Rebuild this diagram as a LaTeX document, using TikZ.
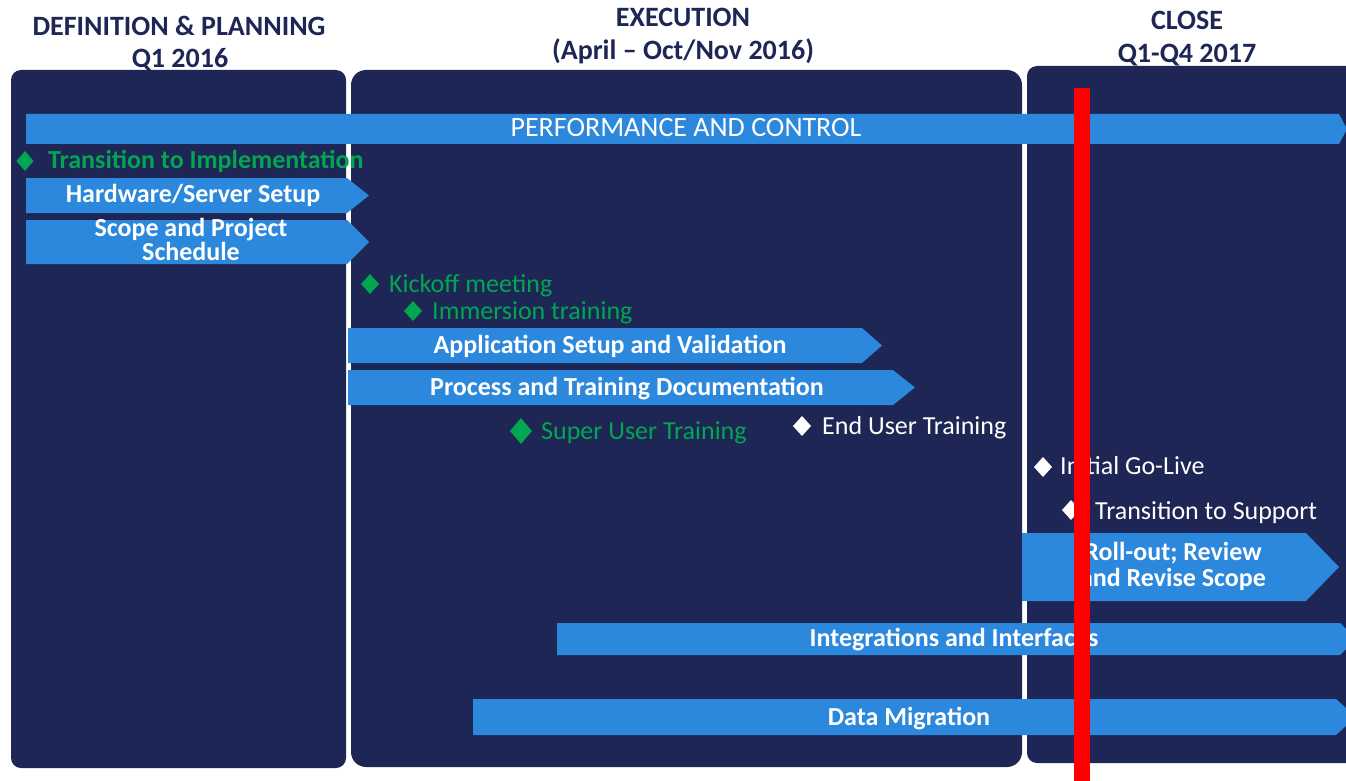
\documentclass[tikz,border=0pt]{standalone}
\usepackage{fontspec}
\setmainfont{Carlito}
\definecolor{navy}{HTML}{1D2654}
\definecolor{barblue}{HTML}{2B88DD}
\definecolor{msgreen}{HTML}{00A651}
\definecolor{hdrcol}{HTML}{1D2654}
\newcommand\gbar[5]{\fill[barblue] (#1,#2) -- (#4,#2) -- (#5,{(#2+#3)/2}) -- (#4,#3) -- (#1,#3) -- cycle;}
\newcommand\dmd[5]{\fill[#1] (#2,{#3-#5}) -- ({#2+#4},#3) -- (#2,{#3+#5}) -- ({#2-#4},#3) -- cycle;}
\tikzset{
  hdr/.style={font=\bfseries\fontsize{28}{30}\selectfont, text=hdrcol, inner sep=0pt, anchor=base},
  bartxt/.style={font=\bfseries\fontsize{26}{24}\selectfont, text=white, inner sep=0pt, anchor=base, align=center},
  msg/.style={font=\fontsize{26}{30}\selectfont, text=msgreen, inner sep=0pt, anchor=base west},
  msw/.style={font=\fontsize{26}{30}\selectfont, text=white, inner sep=0pt, anchor=base west}
}
\begin{document}
\begin{tikzpicture}[x=1pt,y=-1pt]
\useasboundingbox (0,0) rectangle (1346,781);
\begin{scope}
\clip (0,0) rectangle (1346,781);
% panels
\fill[navy,rounded corners=10pt] (11,70) rectangle (346,768);
\fill[navy,rounded corners=15pt] (351,70) rectangle (1022,767);
\fill[navy,rounded corners=10pt] (1027,66) rectangle (1380,763);
% bars
\gbar{26}{114}{144}{1339}{1347}
\gbar{26}{178}{213}{347}{369}
\gbar{26}{220}{264}{347}{369}
\gbar{348}{328}{363}{862}{882}
\gbar{348}{370}{405}{893}{915}
\gbar{1022}{533}{601}{1306}{1339}
\gbar{557}{623}{655}{1340}{1356}
\gbar{473}{699}{735}{1336}{1356}
\end{scope}
% headers
\node[hdr] (h1a) at (179,36) {DEFINITION \& PLANNING};
\node[hdr] (h1b) at (180,68) {Q1 2016};
\node[hdr] (h2a) at (683,27) {EXECUTION};
\node[hdr] (h2b) at (683,60) {(April – Oct/Nov 2016)};
\node[hdr] (h3a) at (1187,30) {CLOSE};
\node[hdr] (h3b) at (1187,63) {Q1-Q4 2017};
% bar labels
\node[bartxt, font=\fontsize{28}{30}\selectfont] (perf) at (686,137) {PERFORMANCE AND CONTROL};
\node[bartxt] (hw) at (193,202) {Hardware/Server Setup};
\node[bartxt, font=\bfseries\fontsize{26}{24}\selectfont] (scope) at (191,260) {Scope and Project\\Schedule};
\node[bartxt, font=\bfseries\fontsize{26}{26}\selectfont] (roll) at (1173,586) {Roll-out; Review\\and Revise Scope};
\node[bartxt] (app) at (610,353) {Application Setup and Validation};
\node[bartxt] (proc) at (627,395) {Process and Training Documentation};
\node[bartxt] (integ) at (954,646) {Integrations and Interfaces};
\node[bartxt] (data) at (909,725) {Data Migration};
% milestones
\dmd{msgreen}{25}{161}{8.5}{10}
\node[msg, font=\bfseries\fontsize{26}{30}\selectfont] (m1) at (48,168) {Transition to Implementation};
\dmd{msgreen}{370}{284}{9}{10}
\node[msg] (m2) at (389,292) {Kickoff meeting};
\dmd{msgreen}{413}{311}{9}{10}
\node[msg] (m3) at (432,319) {Immersion training};
\dmd{msgreen}{521}{431}{11}{13}
\node[msg] (m4) at (541,439) {Super User Training};
\dmd{white}{802}{426}{9}{10}
\node[msw] (m5) at (822,434) {End User Training};
\dmd{white}{1043}{467}{9}{10}
\node[msw] (m6) at (1060,474) {Initial Go-Live};
\dmd{white}{1071}{510}{9}{10}
\node[msw] (m7) at (1095,519) {Transition to Support};
% red line
\fill[red] (1074,88) rectangle (1090,781);
\end{tikzpicture}
\end{document}
